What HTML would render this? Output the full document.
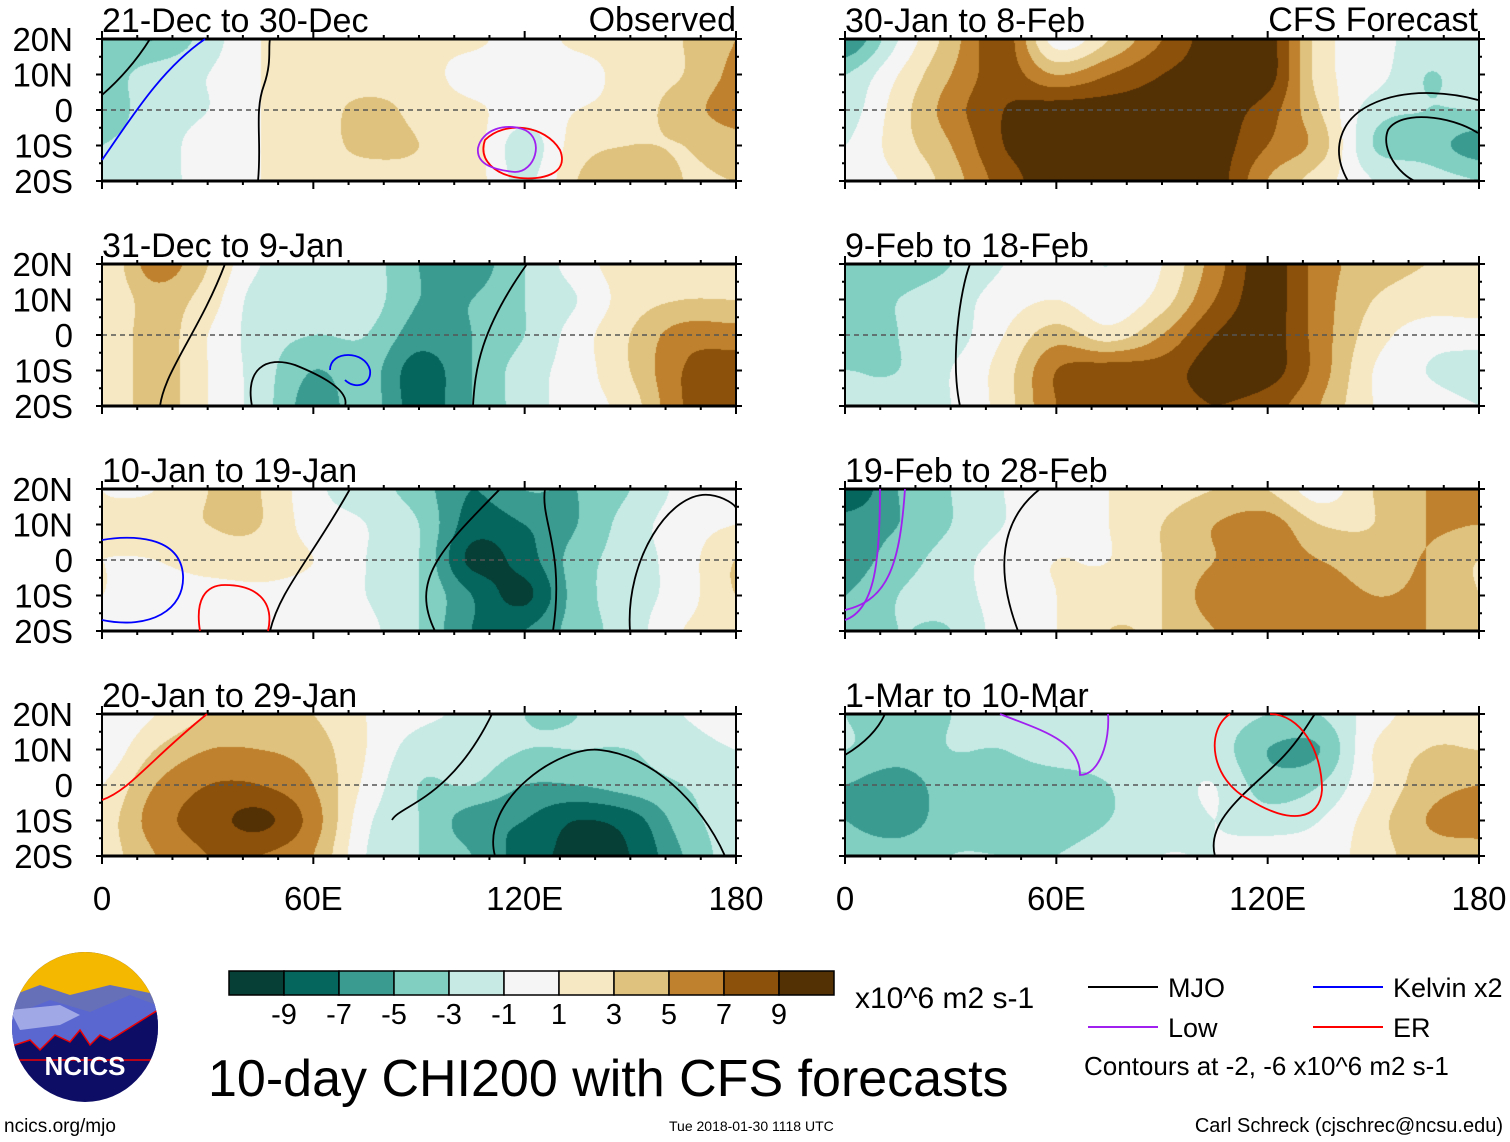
<!DOCTYPE html>
<html><head><meta charset="utf-8"><style>
body{margin:0;background:#fff;width:1510px;height:1142px;overflow:hidden;position:relative;font-family:"Liberation Sans",sans-serif}
canvas{position:absolute}
svg{position:absolute;left:0;top:0}
</style></head><body>
<svg id="ov" width="1510" height="1142"></svg>
<script>
const lonTicks=[0,60,120,180];
const lonLabels=["0","60E","120E","180"];
const latLabels=["20N","10N","0","10S","20S"];
const levels=[-9,-7,-5,-3,-1,1,3,5,7,9];
const colors=["#053f35","#05665e","#3a9b91","#80cfc1","#c7eae5","#f5f5f5","#f6e8c3","#dfc27d","#bf812d","#8c510a","#543005"];
const titles=["21-Dec to 30-Dec","31-Dec to 9-Jan","10-Jan to 19-Jan","20-Jan to 29-Jan","30-Jan to 8-Feb","9-Feb to 18-Feb","19-Feb to 28-Feb","1-Mar to 10-Mar"];
// grids: rows 20N,10N,0,10S,20S ; columns lon 0..180 step 15
const p1=[[-4,-5,-2,1,2,2,1.5,1.5,0,1.5,2,3,5],[-4,-2,-1,1,2,2,2,0,0,0,2,3,5.5],[-4,-2,-1,1,2,3.5,2.5,1.5,0,1,2,4,6],[-3,-2,0,1,2,3.5,3,2,-2,2,3,3,4],[-3,-2,0,1,2,2,2.5,2,-1.5,3,5,3,3]];
const p2=[[1,6,3,-1,-2,-2,-5,-6,-3,0,2,2,2],[1,4,2,-2,-2,-2,-5,-5,-3,-1,2,3,3],[1,4,1,-2,-3,-3,-6,-5,-3,0,3,6,6],[1,4,1,-2,-5,-4,-8,-5,-2,0,3,7,8],[1,4,1,-2,-6,-4,-8,-5,-2,0,2,7,8]];
const p3=[[1,1,3,3,-0.5,-2,-4,-7,-5,-5,-3,-0.5,0],[1,2,3,3,0,-1,-3,-8,-7,-5,-2,0,1],[1,1,2,2,1,-1,-3,-9.5,-8,-4,-2,0,3],[1,0,0,0.5,0,-1,-3,-7,-9.5,-4,-2,0,3],[0.5,0,-0.5,0,0,-0.5,-3,-7,-7,-4,-2,1,2]];
const p4=[[-1,1,3,3,3,1,-0.5,-1.5,-3,-3,-2,-1,0],[-0.5,3,5,5,4,1,-2,-2,-3,-3,-3,-2,-1],[1,5,7,7,5,0.5,-3,-3,-5,-5,-4,-3,-2],[2,6,8,9.5,6,-0.5,-3,-6,-7,-9,-8,-4,-2],[2,5,7,7,5,-1,-3,-5,-8,-9.5,-9,-5,-2]];
const p5=[[-7,-1,4,8,0,3,7,10,10,2,0,-2,-2],[-3,1,5,8,5,7,9,10,10,2,0,-3,-2],[-2,2,6,9,10,10,10,10,8,3,-2,-3,-3],[-1,2,5,9,10,10,10,10,7,4,-3,-4,-6],[0,1,4,8,10,10,10,10,5,2,-1,-2,-3]];
const p6=[[-5,-4,-3,-1,0,-1,1,6,10,6,4,3,3],[-4,-3,-2,0,1,-0.5,2,7,10,6,3,2,2],[-5,-3,-2,1,4,2,5,9,10,6,2,0,0],[-3,-3,-1,2,7,8,8,10,10,6,1,-1,-2],[-3,-2,-1,2,7,8,8,9,8,5,1,0,-1]];
const p7=[[-9,-5,-3,-1,0,1,2,3,3,0,3,5,5],[-6,-5,-3,-1,0,1,3,5,6,3,3,5,5],[-6,-4,-2,0,1,1,3,5,6,5,4,5,3],[-5,-3,-2,0,1,2,3,6,6,6,5,5,3],[-4,-3,-3,0,1,3,3,5,6,6,6,5,3]];
const p8=[[-3,-4,-3,-2,-2,-2,-2,-2,-3,-3,0,2,3],[-3,-4,-3,-3,-2,-2,-2,-2,-5,-5,1,3,3],[-5,-6,-4,-4,-4,-3,-2,-1,-4,-3,1,4,5],[-5,-6,-4,-4,-4,-3,-2,-1,-2,-1,2,5,6],[-4,-4,-3,-3,-3,-2,-1,-1,0,0,2,4,4]];
const grids=[p1,p2,p3,p4,p5,p6,p7,p8];

const PW=634,PH=142;
const colX=[102,845], rowY=[39,264,489,714];
function panelPos(i){return {x:colX[i<4?0:1],y:rowY[i%4]};}
function lonX(x0,lon){return x0+lon/180*PW;}
function latY(y0,lat){return y0+(20-lat)/40*PH;}
function hex(c){return [parseInt(c.slice(1,3),16),parseInt(c.slice(3,5),16),parseInt(c.slice(5,7),16)];}
const rgb=colors.map(hex);
function bin(v){let k=0;while(k<levels.length&&v>levels[k])k++;return k;}
function cr(p0,p1,p2,p3,t){return 0.5*((2*p1)+(-p0+p2)*t+(2*p0-5*p1+4*p2-p3)*t*t+(-p0+3*p1-3*p2+p3)*t*t*t);}
function sample(g,gi,gj){
  const nr=g.length,nc=g[0].length;
  const i1=Math.min(nc-2,Math.floor(gi)),j1=Math.min(nr-2,Math.floor(gj));
  const fi=gi-i1,fj=gj-j1;
  const col=k=>Math.max(0,Math.min(nc-1,k)),row=k=>Math.max(0,Math.min(nr-1,k));
  const r=[];
  for(let dj=-1;dj<=2;dj++){const R=g[row(j1+dj)];r.push(cr(R[col(i1-1)],R[col(i1)],R[col(i1+1)],R[col(i1+2)],fi));}
  return cr(r[0],r[1],r[2],r[3],fj);
}
const NS="http://www.w3.org/2000/svg";
const ov=document.getElementById('ov');
function S(tag,attrs,parent){const e=document.createElementNS(NS,tag);for(const k in attrs)e.setAttribute(k,attrs[k]);(parent||ov).appendChild(e);return e;}
function T(x,y,txt,size,anchor,parent){const e=S('text',{x:x,y:y,'font-size':size,'text-anchor':anchor||'start','font-family':'Liberation Sans, sans-serif',fill:'#000'},parent);e.textContent=txt;return e;}

grids.forEach((g,i)=>{
  const p=panelPos(i);
  const cv=document.createElement('canvas');
  cv.width=PW;cv.height=PH;cv.style.left=p.x+'px';cv.style.top=p.y+'px';
  
  
  document.body.insertBefore(cv,ov);
  const ctx=cv.getContext('2d');const im=ctx.createImageData(PW,PH);
  for(let py=0;py<PH;py++){
    const gj=py/(PH-1)*4;
    for(let px=0;px<PW;px++){
      const gi=px/(PW-1)*12;
      const v=sample(g,gi,gj);
      const c=rgb[bin(v)];const o=(py*PW+px)*4;
      im.data[o]=c[0];im.data[o+1]=c[1];im.data[o+2]=c[2];im.data[o+3]=255;
    }
  }
  ctx.putImageData(im,0,0);
  const grp=S('g',{});
  
  
  S('line',{x1:p.x,x2:p.x+PW,y1:latY(p.y,0),y2:latY(p.y,0),stroke:'#555','stroke-width':1.5,'stroke-dasharray':'5,4'},grp);
  S('line',{x1:p.x,x2:p.x+PW,y1:p.y,y2:p.y,stroke:'#000','stroke-width':3},grp);
  S('line',{x1:p.x,x2:p.x+PW,y1:p.y+PH,y2:p.y+PH,stroke:'#000','stroke-width':3},grp);
  S('line',{x1:p.x,x2:p.x,y1:p.y,y2:p.y+PH,stroke:'#000','stroke-width':2},grp);
  S('line',{x1:p.x+PW,x2:p.x+PW,y1:p.y,y2:p.y+PH,stroke:'#000','stroke-width':2},grp);
  for(let lon=0;lon<=180;lon+=10){
    const x=lonX(p.x,lon);const big=lonTicks.includes(lon);
    S('line',{x1:x,x2:x,y1:p.y+PH,y2:p.y+PH+(big?8:4),stroke:'#000','stroke-width':2},grp);
    S('line',{x1:x,x2:x,y1:p.y,y2:p.y-(big?8:4),stroke:'#000','stroke-width':2},grp);
  }
  for(let lat=-20;lat<=20;lat+=5){
    const y=latY(p.y,lat);const big=lat%10===0;
    S('line',{x1:p.x,x2:p.x-(big?6:3),y1:y,y2:y,stroke:'#000','stroke-width':2},grp);
    S('line',{x1:p.x+PW,x2:p.x+PW+(big?6:3),y1:y,y2:y,stroke:'#000','stroke-width':2},grp);
  }
  const tt=T(p.x,p.y-7,titles[i],34,'start',grp);
  
  
  if(i<4){
    latLabels.forEach((l,k)=>{const t=T(73,latY(p.y,20-k*10)+12,l,33,'end',grp);
      
      });
  }
});
T(736,31,"Observed",34,'end');
T(1478,31,"CFS Forecast",34,'end');
[0,1].forEach(c=>{lonTicks.forEach((lon,k)=>{const t=T(lonX(colX[c],lon),910,lonLabels[k],33,'middle');
  
  });});

const lines=[
 ["M258,181 C262,140 254,112 264,85 C272,62 268,48 270,39","#000"],
 ["M102,160 C130,120 160,70 205,39","#00f"],["M102,95 C125,75 140,55 150,39","#000"],
 ["M485,140 C505,120 545,125 560,150 C570,175 540,180 520,178 C495,175 478,160 485,140Z","#f00"],
 ["M478,148 C482,130 505,122 525,130 C545,140 535,172 515,172 C495,170 476,165 478,148Z","#a020f0"],
 ["M160,406 C165,370 200,330 225,264","#000"],["M473,406 C475,370 480,330 527,264","#000"],
 ["M252,406 C245,370 265,355 295,365 C320,375 350,390 345,406","#000"],
 ["M330,370 C330,350 365,350 370,370 C372,385 355,390 345,380","#00f"],
 ["M270,631 C280,590 310,560 350,489","#000"],["M435,631 C410,580 440,550 500,489","#000"],
 ["M545,489 C540,520 565,550 553,631","#000"],["M630,631 C625,560 670,490 710,495 C725,497 735,505 736,508","#000"],
 ["M102,540 C130,535 180,535 183,575 C185,610 150,630 102,620","#00f"],
 ["M200,631 C195,600 205,585 225,585 C255,585 275,600 268,631","#f00"],
 ["M495,856 C480,800 560,745 600,750 C650,755 700,800 725,856","#000"],
 ["M392,820 C400,805 450,800 492,714","#000"],["M102,800 C130,790 150,760 207,714","#f00"],
 ["M1348,181 C1330,150 1340,120 1370,105 C1410,85 1460,95 1478,100","#000"],
 ["M1478,133 C1450,115 1400,110 1388,130 C1380,150 1400,175 1415,181","#000"],
 ["M960,406 C950,360 960,290 970,264","#000"],["M1018,631 C995,570 1000,520 1040,489","#000"],
 ["M845,620 C875,610 880,560 880,489","#a020f0"],["M845,610 C890,600 900,560 905,489","#a020f0"],
 ["M1215,856 C1205,820 1250,790 1280,760 C1300,740 1310,720 1315,714","#000"],
 ["M1230,714 C1205,730 1210,780 1250,800 C1290,825 1320,820 1322,790 C1322,750 1300,714 1270,714","#f00"],
 ["M845,755 C870,740 880,725 885,714","#000"],["M1000,714 C1040,730 1080,740 1080,775 C1100,775 1110,740 1108,714","#a020f0"]
];
lines.forEach(l=>{const e=S('path',{d:l[0],stroke:l[1],fill:'none','stroke-width':1.8});
  
  });

const cb=S('g',{});


colors.forEach((c,k)=>{S('rect',{x:229+k*55,y:971,width:55,height:24,fill:c,stroke:'#000','stroke-width':1.5},cb);});
levels.forEach((l,k)=>{T(229+(k+1)*55,1024,String(l),29,'middle',cb);});
T(855,1008,"x10^6 m2 s-1",30,'start');

const lg=S('g',{});


[["MJO","#000",1088,987],["Low","#a020f0",1088,1027],["Kelvin x2","#00f",1313,987],["ER","#f00",1313,1027]].forEach(e=>{
  S('line',{x1:e[2],x2:e[2]+70,y1:e[3],y2:e[3],stroke:e[1],'stroke-width':2},lg);
  T(e[2]+80,e[3]+10,e[0],27,'start',lg);
});
T(1084,1075,"Contours at -2, -6 x10^6 m2 s-1",26,'start',lg);

T(208,1096,"10-day CHI200 with CFS forecasts",52,'start');
T(4,1132,"ncics.org/mjo",19,'start');
T(669,1131,"Tue 2018-01-30 1118 UTC",14,'start');
T(1503,1132,"Carl Schreck (cjschrec@ncsu.edu)",20,'end');

const lo=S('g',{});


const cp=S('clipPath',{id:'lc'},lo);
S('ellipse',{cx:85,cy:1027,rx:73,ry:75},cp);
const lg2=S('g',{'clip-path':'url(#lc)'},lo);
S('rect',{x:0,y:950,width:170,height:160,fill:'#0d0d66'},lg2);
S('rect',{x:0,y:950,width:170,height:50,fill:'#f5b800'},lg2);
S('path',{d:"M0,1000 L40,985 L70,995 L110,985 L160,995 L170,1000 L170,1040 L0,1040Z",fill:'#6670b8'},lg2);
S('path',{d:"M0,1020 L50,1000 L90,1012 L130,995 L170,1010 L170,1050 L0,1060Z",fill:'#5a67d0'},lg2);
S('path',{d:"M10,1010 L60,1005 L80,1015 L60,1025 L20,1030Z",fill:'#a0a8e6'},lg2);
S('path',{d:"M0,1050 L30,1040 L40,1050 L55,1035 L70,1042 L80,1030 L90,1045 L100,1035 L110,1040 L158,1010 L170,1010 L170,1060 L0,1060Z",fill:'#0d0d66',stroke:'#e00','stroke-width':1.5},lg2);
const nt=T(85,1075,"NCICS",26,'middle',lo);nt.setAttribute('fill','#fff');nt.setAttribute('font-weight','bold');
</script>
</body></html>
